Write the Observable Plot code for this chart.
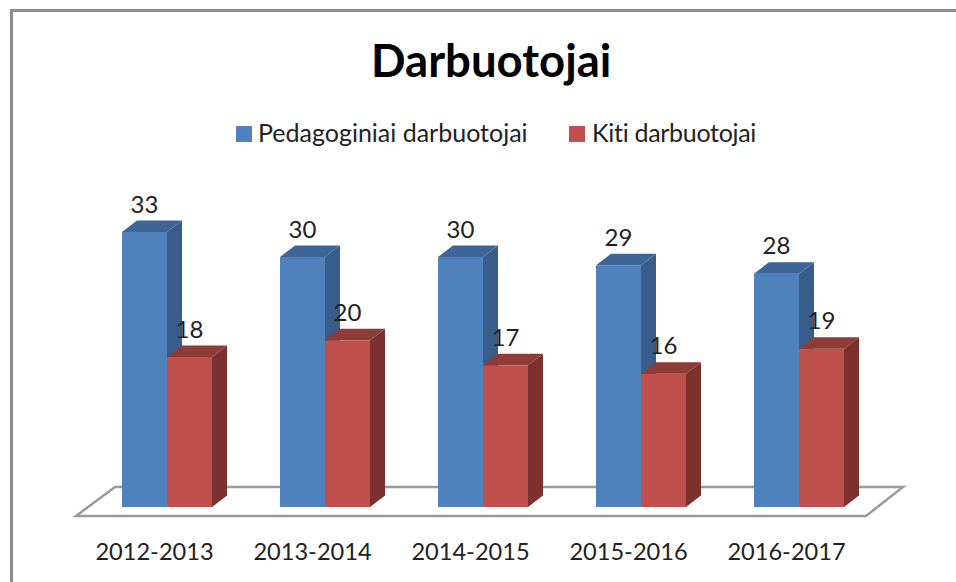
<!DOCTYPE html>
<html><head><meta charset="utf-8">
<script src="https://cdn.jsdelivr.net/npm/d3@7"></script>
<script src="https://cdn.jsdelivr.net/npm/@observablehq/plot@0.6"></script>
<style>
html,body{margin:0;padding:0;background:#fff;overflow:hidden}
#wrap{position:relative;width:956px;height:582px;font-family:Lato,sans-serif;color:#222}
#wrap svg{position:absolute;left:0;top:0;background:transparent}
#frameT{position:absolute;left:10px;top:9px;right:0;height:2.5px;background:#8c8c8c}
#frameL{position:absolute;left:10px;top:9px;bottom:0;width:2.5px;background:#8c8c8c}
#title{position:absolute;left:371px;top:34px;width:239px;text-align:center;font-size:45.5px;font-weight:700;color:#000;line-height:52px;white-space:nowrap}
.lg{position:absolute;top:118px;font-size:25px;line-height:28px;white-space:nowrap}
.sw{position:absolute;top:126px;width:16px;height:16px}
</style></head><body>
<div id="wrap"><div id="frameT"></div><div id="frameL"></div><div id="title">Darbuotojai</div></div>
<script>
const years = ["2012-2013","2013-2014","2014-2015","2015-2016","2016-2017"];
const seriesNames = ["Pedagoginiai darbuotojai","Kiti darbuotojai"];
const pedagogical = [33,30,30,29,28];
const others = [18,20,17,16,19];
const frontColors = ["#4F81BD","#C0504D"];
const sideColors = ["#385D8A","#7D312F"];
const topColors = ["#3D6596","#8F3B38"];
const depthX = 15, depthY = 11.5;

const rows = years.flatMap((year,i)=>[
  {year,series:seriesNames[0],value:pedagogical[i]},
  {year,series:seriesNames[1],value:others[i]}
]);
const svgNS = "http://www.w3.org/2000/svg";

let floorDrawn = false;
function floorMark(index, scales, values, dimensions){
  if (floorDrawn) return null;
  floorDrawn = true;
  const base = dimensions.height - dimensions.marginBottom;
  const p = document.createElementNS(svgNS,"polygon");
  p.setAttribute("points", [[76,base+9],[115,base-20],[903,base-20],[866,base+9]].map(d=>d.join(",")).join(" "));
  p.setAttribute("fill","#fff");
  p.setAttribute("stroke","#9a9a9a");
  p.setAttribute("stroke-width","2.5");
  return p;
}
function faces(k){
  return function(index, scales, values, dimensions, context, next){
    const g = next(index, scales, values, dimensions, context);
    const bw = scales.x.bandwidth();
    for (const i of index){
      const x0 = values.x[i], x1 = x0 + bw;
      const yT = Math.min(values.y1[i], values.y2[i]), yB = Math.max(values.y1[i], values.y2[i]);
      for (const [pts,fill] of [
        [[[x1,yT],[x1+depthX,yT-depthY],[x1+depthX,yB-depthY],[x1,yB]], sideColors[k]],
        [[[x0,yT],[x0+depthX,yT-depthY],[x1+depthX,yT-depthY],[x1,yT]], topColors[k]]
      ]){
        const p = document.createElementNS(svgNS,"polygon");
        p.setAttribute("points", pts.map(d=>d.join(",")).join(" "));
        p.setAttribute("fill", fill);
        g.appendChild(p);
      }
    }
    return g;
  };
}
const chart = Plot.plot({
  width:956, height:582,
  marginLeft:122, marginRight:111, marginTop:7, marginBottom:75,
  style:{fontFamily:"Lato, sans-serif", background:"transparent", overflow:"visible"},
  fx:{domain:years, padding:0.43, label:null, axis:null},
  x:{domain:seriesNames, padding:0, axis:null, label:null},
  y:{domain:[0,60], axis:null, label:null},
  color:{domain:seriesNames, range:frontColors},
  marks:[
    floorMark,
    Plot.barY(rows.filter(d=>d.series===seriesNames[0]),{fx:"year",x:"series",y:"value",fill:"series",render:faces(0)}),
    Plot.barY(rows.filter(d=>d.series===seriesNames[1]),{fx:"year",x:"series",y:"value",fill:"series",render:faces(1)}),
    Plot.text(rows,{fx:"year",x:"series",y:"value",text:"value",dx:-0.5,dy:-27.5,fontSize:24,fill:"#222"}),
    Plot.axisFx({anchor:"bottom",tickSize:0,tickPadding:36,dx:-13,fontSize:23.6,label:null,color:"#222"})
  ]
});
const wrap = document.getElementById("wrap");
wrap.appendChild(chart);
[[236,258],[569,592]].forEach(([sx,tx],k)=>{
  const s=document.createElement("div"); s.className="sw"; s.style.left=sx+"px"; s.style.background=frontColors[k]; wrap.appendChild(s);
  const t=document.createElement("div"); t.className="lg"; t.style.left=tx+"px"; t.textContent=seriesNames[k]; if(k===1) t.style.letterSpacing="-0.3px"; wrap.appendChild(t);
});
</script></body></html>
